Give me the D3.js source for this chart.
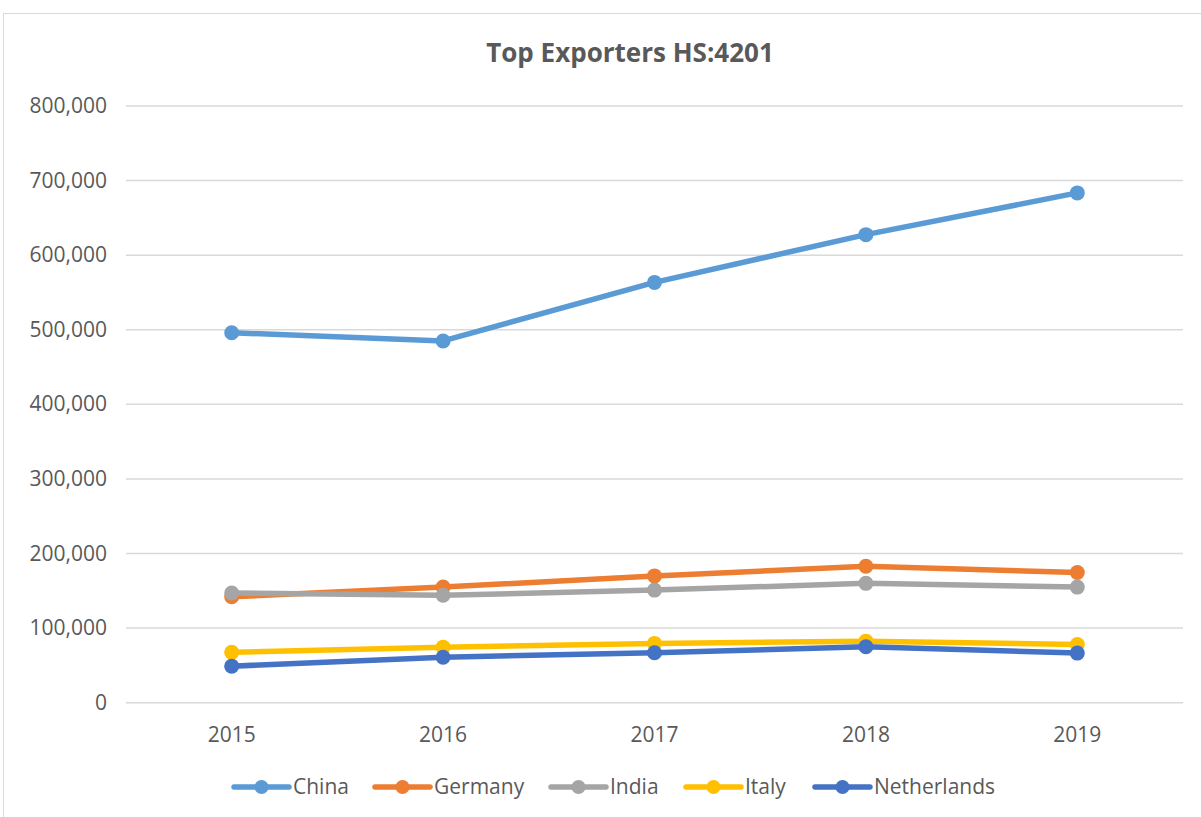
<!DOCTYPE html>
<html>
<head>
<meta charset="utf-8">
<script src="https://cdn.jsdelivr.net/npm/d3@7"></script>
<style>
  body { margin: 0; background: #fff; }
  text { font-family: "Open Sans", sans-serif; fill: #595959; }
</style>
</head>
<body>
<div id="chart"></div>
<script>
const years = ["2015", "2016", "2017", "2018", "2019"];
const yTicks = [0, 100000, 200000, 300000, 400000, 500000, 600000, 700000, 800000];

const china = [496000, 485000, 563500, 627500, 683500];
const germany = [142000, 155000, 170000, 183000, 174500];
const india = [147000, 144000, 151000, 160000, 155000];
const italy = [67500, 74500, 79500, 82500, 78000];
const netherlands = [49000, 61000, 67000, 75000, 66500];

const seriesNames = ["China", "Germany", "India", "Italy", "Netherlands"];
const seriesColors = ["#5B9BD5", "#ED7D31", "#A5A5A5", "#FFC000", "#4472C4"];

const series = [china, germany, india, italy, netherlands].map((v, i) => ({
  name: seriesNames[i], color: seriesColors[i], values: v
}));

const width = 1201, height = 817;

const svg = d3.select("#chart").append("svg")
  .attr("width", width)
  .attr("height", height);

// chart border
svg.append("rect")
  .attr("x", 3.5).attr("y", 13.5)
  .attr("width", 1210).attr("height", 820)
  .attr("fill", "none")
  .attr("stroke", "#d9d9d9");

svg.append("text")
  .attr("x", 630).attr("y", 62)
  .attr("text-anchor", "middle")
  .style("font-size", "26px")
  .style("font-weight", "bold")
  .text("Top Exporters HS:4201");

const x = d3.scalePoint().domain(years).range([126, 1183]).padding(0.5);
const y = d3.scaleLinear().domain([0, 800000]).range([702.7, 106]);

// gridlines
svg.append("g")
  .selectAll("line")
  .data(yTicks)
  .enter()
  .append("line")
  .attr("x1", 126).attr("x2", 1183)
  .attr("y1", d => y(d)).attr("y2", d => y(d))
  .attr("stroke", "#d9d9d9")
  .attr("stroke-width", 1.5);

// y axis labels
const fmt = d3.format(",");
svg.append("g")
  .selectAll("text")
  .data(yTicks)
  .enter()
  .append("text")
  .attr("x", 107)
  .attr("y", d => y(d) + 7)
  .attr("text-anchor", "end")
  .style("font-size", "21px")
  .text(d => fmt(d));

// x axis labels
svg.append("g")
  .selectAll("text")
  .data(years)
  .enter()
  .append("text")
  .attr("x", d => x(d))
  .attr("y", 742)
  .attr("text-anchor", "middle")
  .style("font-size", "21px")
  .text(d => d);

const line = d3.line()
  .x((d, i) => x(years[i]))
  .y(d => y(d));

const lines = svg.append("g");
series.forEach(s => {
  lines.append("path")
    .attr("d", line(s.values))
    .attr("fill", "none")
    .attr("stroke", s.color)
    .attr("stroke-width", 5.5)
    .attr("stroke-linejoin", "round")
    .attr("stroke-linecap", "round");

  lines.selectAll(null)
    .data(s.values)
    .enter()
    .append("circle")
    .attr("cx", (d, i) => x(years[i]))
    .attr("cy", d => y(d))
    .attr("r", 7.5)
    .attr("fill", s.color);
});

// legend
const legendX = [234, 375, 551, 686, 815];
const legend = svg.append("g");
series.forEach((s, i) => {
  const g = legend.append("g").attr("transform", `translate(${legendX[i]},787)`);
  g.append("line")
    .attr("x1", 0).attr("x2", 55)
    .attr("stroke", s.color)
    .attr("stroke-width", 5.5)
    .attr("stroke-linecap", "round");
  g.append("circle")
    .attr("cx", 27.5).attr("r", 7)
    .attr("fill", s.color);
  g.append("text")
    .attr("x", 59).attr("y", 7)
    .style("font-size", "21px")
    .text(s.name);
});
</script>
</body>
</html>
